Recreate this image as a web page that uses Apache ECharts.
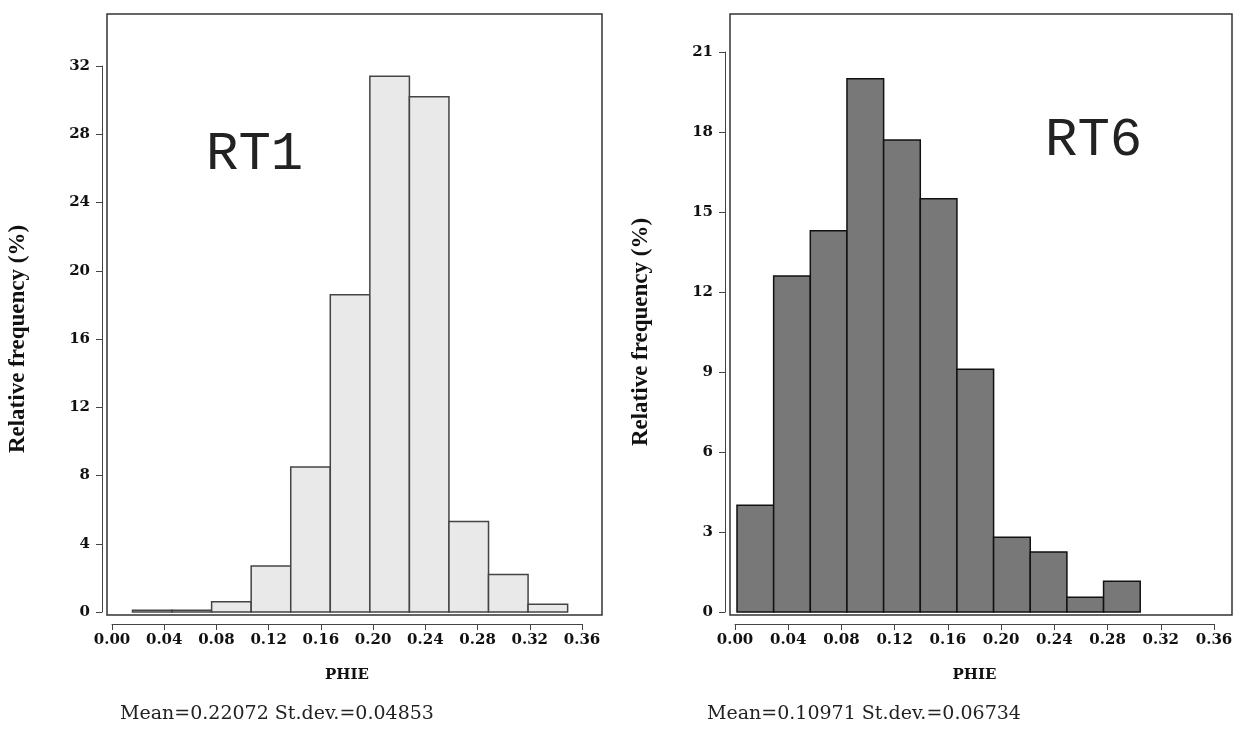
<!DOCTYPE html>
<html><head><meta charset="utf-8">
<script src="https://cdn.jsdelivr.net/npm/echarts@6/dist/echarts.min.js"></script>
<style>html,body{margin:0;background:#fff}#c{width:1239px;height:751px}</style>
</head><body><div id="c"></div>
<script>
const rt1Start = 0.0157, rt1Width = 0.0303;
const rt1Values = [0.1, 0.1, 0.6, 2.7, 8.5, 18.6, 31.4, 30.2, 5.3, 2.2, 0.45];
const rt6Start = 0.0015, rt6Width = 0.02755;
const rt6Values = [4.0, 12.6, 14.3, 20.0, 17.7, 15.5, 9.1, 2.8, 2.25, 0.55, 1.15];

function bins(start, w, vals){ return vals.map((v,i)=>[start+i*w, start+(i+1)*w, v]); }
const font = 'DejaVu Serif';
function rend(fill, stroke){
  return function(params, api){
    const p0 = api.coord([api.value(0), api.value(2)]);
    const p1 = api.coord([api.value(1), 0]);
    return {type:'rect', shape:{x:p0[0], y:p0[1], width:p1[0]-p0[0], height:p1[1]-p0[1]},
      style:{fill:fill, stroke:stroke, lineWidth:1.5}};
  };
}
function xAx(i){ return {gridIndex:i, type:'value', min:0, max:0.36, interval:0.04, offset:12,
  name:'PHIE', nameLocation:'middle', nameGap:44, nameTextStyle:{fontFamily:font,fontWeight:'bold',fontSize:15,color:'#111'},
  axisLine:{show:true,onZero:false,lineStyle:{color:'#444'}}, axisTick:{show:true,length:6,lineStyle:{color:'#444'}},
  splitLine:{show:false},
  axisLabel:{fontFamily:font,fontWeight:'bold',fontSize:15,color:'#111',margin:9,formatter:v=>v.toFixed(2)}}; }
function yAx(i,max,int){ return {gridIndex:i, type:'value', min:0, max:max, interval:int, offset:10,
  name:'Relative frequency (%)', nameLocation:'middle', nameGap:72,
  nameTextStyle:{fontFamily:'Liberation Serif',fontWeight:'bold',fontSize:23,color:'#111'},
  axisLine:{show:true,onZero:false,lineStyle:{color:'#444'}}, axisTick:{show:true,length:6,lineStyle:{color:'#444'}}, splitLine:{show:false},
  axisLabel:{fontFamily:font,fontWeight:'bold',fontSize:15,color:'#111',margin:12}}; }
const chart = echarts.init(document.getElementById('c'));
chart.setOption({
  animation:false,
  grid:[
    {left:112, top:66, width:470, height:546},
    {left:735, top:52, width:479, height:560}
  ],
  xAxis:[xAx(0), xAx(1)],
  yAxis:[yAx(0,32,4), yAx(1,21,3)],
  series:[
    {type:'custom', xAxisIndex:0, yAxisIndex:0, renderItem:rend('#e9e9e9','#444'), data:bins(rt1Start,rt1Width,rt1Values), encode:{x:[0,1],y:2}, clip:false},
    {type:'custom', xAxisIndex:1, yAxisIndex:1, renderItem:rend('#787878','#111'), data:bins(rt6Start,rt6Width,rt6Values), encode:{x:[0,1],y:2}, clip:false}
  ],
  graphic:[
    {type:'rect', shape:{x:107,y:14,width:495,height:601}, style:{fill:'none',stroke:'#333',lineWidth:1.5}, z:10},
    {type:'rect', shape:{x:730,y:14,width:502,height:601}, style:{fill:'none',stroke:'#333',lineWidth:1.5}, z:10},
    {type:'text', left:206, top:128, style:{text:'RT1', font:'54px "Liberation Mono"', fill:'#222'}},
    {type:'text', left:1045, top:114, style:{text:'RT6', font:'54px "Liberation Mono"', fill:'#222'}},
    {type:'text', left:120, top:705, style:{text:'Mean=0.22072 St.dev.=0.04853', font:'19px "DejaVu Serif"', fill:'#222'}},
    {type:'text', left:707, top:705, style:{text:'Mean=0.10971 St.dev.=0.06734', font:'19px "DejaVu Serif"', fill:'#222'}}
  ]
});
</script></body></html>
